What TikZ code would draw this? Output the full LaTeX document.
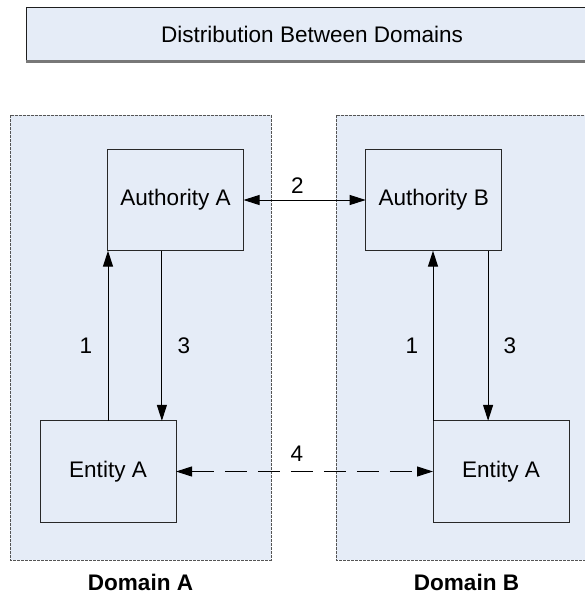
\documentclass[tikz,border=0pt]{standalone}
\usepackage{fontspec}
\setmainfont{Liberation Sans}
\usetikzlibrary{arrows.meta,calc}
\definecolor{paneblue}{RGB}{229,236,247}

\begin{document}
\begin{tikzpicture}[x=0.75pt,y=0.75pt,yscale=-1,xscale=1,
  every node/.style={font=\fontsize{16.9}{20}\selectfont},
  >={Triangle[length=12pt,width=7.5pt]},
  blk/.style={draw={rgb,255:red,40;green,40;blue,40},fill=paneblue,line width=0.75pt,minimum width=102pt,minimum height=76pt,inner sep=0pt,outer sep=0pt},
  pane/.style={draw={rgb,255:red,85;green,85;blue,85},fill=paneblue,line width=0.6pt,dash pattern=on 2pt off 1pt},
  link/.style={line width=0.75pt},
  lbl/.style={inner sep=0.75pt}]
\clip (0,0) rectangle (585,594);

%Shape: Title bar
\node[draw={rgb,255:red,30;green,30;blue,30},fill=paneblue,line width=0.75pt,minimum width=429pt,minimum height=40.5pt,inner sep=0pt] (title) at (312,34) {Distribution Between Domains};
\draw[color={rgb,255:red,120;green,120;blue,120},line width=1.6pt] (title.south west) -- (title.south east);

%Shape: Domain panes
\draw[pane] (10,115) rectangle (271,560);
\draw[pane] (336,115) rectangle (597,560);

% Boxes
\node[blk] (authA) at (175.5,200) {Authority A};
\node[blk] (authB) at (433.7,200) {Authority B};
\node[blk] (entA) at (108,471.5) {Entity A};
\node[blk] (entB) at (501,471.5) {Entity A};

%Straight Lines
\coordinate (a3) at ($(authA.south west)!0.4!(authA.south east)$);
\coordinate (b3) at ($(authB.south west)!0.9!(authB.south east)$);
\draw[link,->] (entA.north) -- (entA.north |- authA.south);
\draw[link,->] (a3) -- (a3 |- entA.north);
\draw[link,->] (entB.north west) -- (entB.north west |- authB.south);
\draw[link,->] (b3) -- (b3 |- entB.north);
\draw[link,<->] (authA) -- (authB);
\draw[link,<->,dash pattern=on 16.5pt off 8.25pt] (entA) -- (entB);

% Text Node
\node[lbl] (l1a) at (86,346) {1};
\node[lbl] (l3a) at (184,346) {3};
\node[lbl] (l1b) at (412,346) {1};
\node[lbl] (l3b) at (510,346) {3};
\node[lbl] (l2) at (297.5,186) {2};
\node[lbl] (l4) at (297,454) {4};
\node[lbl,font=\fontsize{16.9}{20}\selectfont\bfseries] (domA) at (140.5,582) {Domain A};
\node[lbl,font=\fontsize{16.9}{20}\selectfont\bfseries] (domB) at (466.5,582) {Domain B};

\end{tikzpicture}
\end{document}
